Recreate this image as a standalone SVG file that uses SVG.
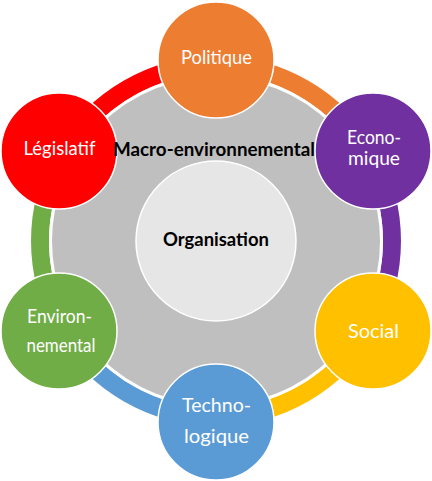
<svg xmlns="http://www.w3.org/2000/svg" width="432" height="481" viewBox="0 0 432 481">
<style>
.ring{fill:none;stroke-width:18}
.node{stroke:#fff;stroke-width:1.5}
.lbl{font-family:Lato,"Liberation Sans",sans-serif;font-size:18.5px;fill:#fff;text-anchor:middle}
.bold{font-family:Lato,"Liberation Sans",sans-serif;font-size:18px;font-weight:bold;fill:#000;text-anchor:middle}
</style>
<rect width="432" height="481" fill="#fff"/>
<g id="connectors">
<path class="ring" stroke="#FF0000" d="M63.6,153 A176,176 0 0 1 216,65"/>
<path class="ring" stroke="#ED7D31" d="M216,65 A176,176 0 0 1 368.4,153"/>
<path class="ring" stroke="#7030A0" d="M368.4,153 A176,176 0 0 1 368.4,329"/>
<path class="ring" stroke="#FFC000" d="M368.4,329 A176,176 0 0 1 216,417"/>
<path class="ring" stroke="#5B9BD5" d="M216,417 A176,176 0 0 1 63.6,329"/>
<path class="ring" stroke="#70AD47" d="M63.6,329 A176,176 0 0 1 63.6,153"/>
</g>
<g id="macro">
<circle cx="216" cy="241" r="165.5" fill="#BFBFBF" stroke="#fff" stroke-width="3"/>
</g>
<g id="organisation">
<circle cx="216" cy="241" r="80" fill="#E7E6E6" stroke="#fff" stroke-width="1.5"/>
<text class="bold" x="216" y="246" textLength="106" lengthAdjust="spacingAndGlyphs">Organisation</text>
</g>
<g id="politique">
<circle class="node" cx="216" cy="60" r="58" fill="#ED7D31"/>
<text class="lbl" x="216.5" y="64" textLength="71" lengthAdjust="spacingAndGlyphs">Politique</text>
</g>
<g id="economique">
<circle class="node" cx="373" cy="151" r="58" fill="#7030A0"/>
<text class="lbl" x="374" y="144" textLength="54" lengthAdjust="spacingAndGlyphs">Econo-</text>
<text class="lbl" x="374" y="165" textLength="52" lengthAdjust="spacingAndGlyphs">mique</text>
</g>
<g id="social">
<circle class="node" cx="373" cy="331" r="58" fill="#FFC000"/>
<text class="lbl" x="373.5" y="338" textLength="51" lengthAdjust="spacingAndGlyphs">Social</text>
</g>
<g id="technologique">
<circle class="node" cx="216" cy="422" r="58" fill="#5B9BD5"/>
<text class="lbl" x="216.5" y="412" textLength="69" lengthAdjust="spacingAndGlyphs">Techno-</text>
<text class="lbl" x="216.5" y="443" textLength="65" lengthAdjust="spacingAndGlyphs">logique</text>
</g>
<g id="environnemental">
<circle class="node" cx="59" cy="331" r="58" fill="#70AD47"/>
<text class="lbl" x="59.5" y="323" textLength="65" lengthAdjust="spacingAndGlyphs">Environ-</text>
<text class="lbl" x="61" y="352" textLength="69" lengthAdjust="spacingAndGlyphs">nemental</text>
</g>
<g id="legislatif">
<circle class="node" cx="59" cy="151" r="58" fill="#FF0000"/>
<text class="lbl" x="59.5" y="155" textLength="72" lengthAdjust="spacingAndGlyphs">Législatif</text>
</g>
<g id="macro-label">
<text class="bold" x="214" y="156" textLength="202" lengthAdjust="spacingAndGlyphs">Macro-environnemental</text>
</g>
</svg>
